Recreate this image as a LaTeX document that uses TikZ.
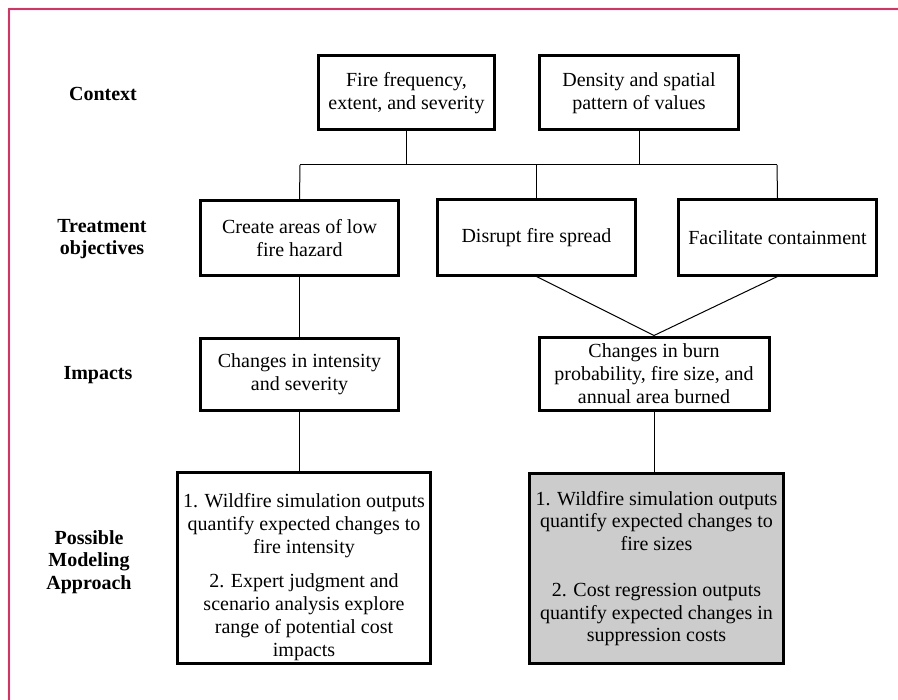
\documentclass[tikz,border=0pt]{standalone}
\usepackage{fontspec}
\setmainfont{Liberation Serif}
\usetikzlibrary{positioning,calc}
\definecolor{mFrame}{HTML}{EC2860}
\definecolor{mShade}{HTML}{CCCCCC}

\begin{document}
\begin{tikzpicture}[x=0.5pt,y=-0.5pt,font=\fontsize{10}{11.4}\selectfont,
    box/.style={draw,line width=1.5pt,align=center,inner sep=0pt},
    link/.style={line width=0.5pt},
    lbl/.style={align=center,font=\fontsize{10}{11.2}\selectfont\bfseries}]
  \useasboundingbox (0,0) rectangle (898,700);
  \draw[mFrame,line width=1pt] (9,700) -- (9,9.5) -- (898,9.5);

  % row labels
  \foreach \n/\x/\y/\t in {%
      ctx/103/94/{Context},
      trt/102/239/{Treatment\\objectives},
      imp/98/375/{Impacts},
      app/89/562/{Possible\\Modeling\\Approach}}{%
    \node[lbl] (lbl\n) at (\x,\y) {\t};
  }

  % context
  \node[box,minimum width=88pt,minimum height=37pt] (fire) at (406.5,93)
    {Fire frequency,\\extent, and severity};
  \node[box,minimum width=99.5pt,minimum height=37pt] (values) at (639,93)
    {Density and spatial\\pattern of values};

  % treatment objectives
  \node[box,minimum width=99pt,minimum height=37.5pt] (hazard) at (299.5,238)
    {Create areas of low\\fire hazard};
  \node[box,minimum width=99pt,minimum height=37.5pt] (spread) at (536.5,237.5)
    {Disrupt fire spread};
  \node[box,minimum width=99pt,minimum height=37.5pt] (contain) at (777.5,237.5)
    {Facilitate containment};

  % impacts
  \node[box,minimum width=99pt,minimum height=36pt] (intensity) at (299.5,374)
    {Changes in intensity\\and severity};
  \node[box,minimum width=115pt,minimum height=36.5pt] (burn) at (654,373.5)
    {Changes in burn\\probability, fire size, and\\annual area burned};

  % modeling approach
  \node[box,minimum width=126.5pt,minimum height=95.5pt] (simleft) at (304,568) {};
  \node[align=center,inner sep=0pt] (simlefttxt) at (304,577)
    {1. Wildfire simulation outputs\\quantify expected changes to\\fire intensity\\[5.7pt]
     2. Expert judgment and\\scenario analysis explore\\range of potential cost\\impacts};
  \node[box,fill=mShade,minimum width=127pt,minimum height=95pt] (simright) at (656.5,568.5)
    {1. Wildfire simulation outputs\\quantify expected changes to\\fire sizes\\[11.4pt]
     2. Cost regression outputs\\quantify expected changes in\\suppression costs};

  % connectors
  \coordinate (busL) at (300,165);
  \coordinate (busR) at (777,165);
  \draw[link] (fire.south) -- (fire.south |- busL);
  \draw[link] (values.south) -- (values.south |- busL);
  \draw[link] (busL) -- (busR);
  \draw[link] (busL) -- (hazard.north);
  \draw[link] (spread.north |- busL) -- (spread.north);
  \draw[link] (busR) -- (contain.north);
  \draw[link] (hazard.south) -- (intensity.north);
  \draw[link] (spread.south) -- (burn.north);
  \draw[link] (contain.south) -- (burn.north);
  \draw[link] (intensity.south) -- (intensity.south |- simleft.north);
  \draw[link] (burn.south) -- (burn.south |- simright.north);
\end{tikzpicture}
\end{document}
